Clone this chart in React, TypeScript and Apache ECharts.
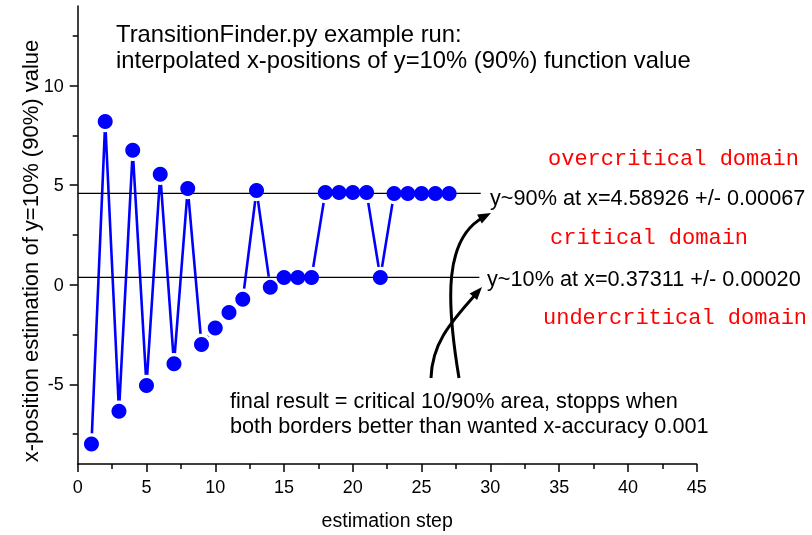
import React, { useEffect, useRef } from "react";
import * as echarts from "echarts";

const steps = [1, 2, 3, 4, 5, 6, 7, 8, 9, 10, 11, 12, 13, 14, 15, 16, 17, 18, 19, 20, 21, 22, 23, 24, 25, 26, 27];
const estimates = [-8.0, 8.2, -6.35, 6.75, -5.06, 5.55, -3.97, 4.84, -3.0, -2.17, -1.39, -0.73, 4.74, -0.13, 0.37, 0.37, 0.37, 4.64, 4.64, 4.64, 4.64, 0.37, 4.59, 4.59, 4.59, 4.59, 4.59];
const level90 = 4.58926;
const level10 = 0.37311;
const level90End = 29.3;
const level10End = 29.2;
const yMajorTicks = [-5, 0, 5, 10];
const yMinorTicks = [-7.5, -2.5, 2.5, 7.5, 12.5];

const titleLines = ["TransitionFinder.py example run:", "interpolated x-positions of y=10% (90%) function value"];
const resultLines = ["final result = critical 10/90% area, stopps when", "both borders better than wanted x-accuracy 0.001"];
const label90 = "y~90% at x=4.58926 +/- 0.00067";
const label10 = "y~10% at x=0.37311 +/- 0.00020";
const domains = ["overcritical domain", "critical domain", "undercritical domain"];

const SANS = "Arial, 'Liberation Sans', Helvetica, sans-serif";
const MONO = "'Courier New', 'Liberation Mono', monospace";

export default function App() {
  const ref = useRef<HTMLDivElement>(null);
  useEffect(() => {
    if (!ref.current) return;
    const chart = echarts.init(ref.current, null, { renderer: "svg" });
    const pts = steps.map((s, i) => [s, estimates[i]]);
    const txt = (text: string, x: number, y: number, size: number, fill = "#000", family = SANS, align = "left") => ({
      type: "text",
      x,
      y,
      silent: true,
      style: { text, fontSize: size, fontFamily: family, fill, align, verticalAlign: "middle" },
    });
    const arrowHead = (tx: number, ty: number, fx: number, fy: number) => {
      const dx = tx - fx, dy = ty - fy;
      const len = Math.sqrt(dx * dx + dy * dy);
      const ux = dx / len, uy = dy / len;
      const L = 13, W = 5;
      const bx = tx - ux * L, by = ty - uy * L;
      return {
        type: "polygon",
        silent: true,
        shape: { points: [[tx, ty], [bx - uy * W, by + ux * W], [bx + uy * W, by - ux * W]] },
        style: { fill: "#000" },
      };
    };
    chart.setOption({
      animation: false,
      grid: { left: 77.7, right: 115.3, top: 6, bottom: 68.3, containLabel: false },
      xAxis: {
        type: "value",
        min: 0,
        max: 45,
        interval: 5,
        axisLine: { onZero: false, lineStyle: { color: "#000", width: 1.5 } },
        axisTick: { length: 8, inside: false, lineStyle: { color: "#000", width: 1.5 } },
        minorTick: { show: true, splitNumber: 2, length: 5, lineStyle: { color: "#000", width: 1.5 } },
        axisLabel: { fontSize: 18, color: "#000", fontFamily: SANS, margin: 14 },
        splitLine: { show: false },
        name: "estimation step",
        nameLocation: "middle",
        nameGap: 46,
        nameTextStyle: { fontSize: 19.5, color: "#000", fontFamily: SANS },
      },
      yAxis: [
        {
          type: "value",
          min: -9,
          max: 14,
          axisLine: { show: true, onZero: false, lineStyle: { color: "#000", width: 1.5 } },
          axisTick: { show: true, length: 8, customValues: yMajorTicks, lineStyle: { color: "#000", width: 1.5 } },
          axisLabel: { fontSize: 18, color: "#000", fontFamily: SANS, margin: 14, customValues: yMajorTicks },
          splitLine: { show: false },
        },
        {
          type: "value",
          position: "left",
          min: -9,
          max: 14,
          axisLine: { show: false, onZero: false },
          axisTick: { show: true, length: 5, customValues: yMinorTicks, lineStyle: { color: "#000", width: 1.5 } },
          axisLabel: { show: false, customValues: yMinorTicks },
          splitLine: { show: false },
        },
      ],
      series: [
        {
          type: "line",
          data: pts,
          showSymbol: false,
          symbol: "none",
          lineStyle: { color: "#0000ff", width: 2.6 },
          silent: true,
          z: 2,
        },
        {
          type: "scatter",
          data: pts,
          symbolSize: 21.5,
          itemStyle: { color: "#ffffff", opacity: 1 },
          silent: true,
          z: 3,
        },
        {
          type: "line",
          data: [[0, level90], [level90End, level90]],
          showSymbol: false,
          symbol: "none",
          lineStyle: { color: "#000", width: 1.3 },
          silent: true,
          z: 4,
        },
        {
          type: "line",
          data: [[0, level10], [level10End, level10]],
          showSymbol: false,
          symbol: "none",
          lineStyle: { color: "#000", width: 1.3 },
          silent: true,
          z: 4,
        },
        {
          type: "scatter",
          data: pts,
          symbolSize: 15,
          itemStyle: { color: "#0000ff", opacity: 1 },
          silent: true,
          z: 5,
        },
      ],
      graphic: [
        txt(titleLines[0], 116, 33, 23.8),
        txt(titleLines[1], 116, 59, 23.8),
        txt(resultLines[0], 230, 400, 21.7),
        txt(resultLines[1], 230, 425, 21.7),
        txt(label90, 490, 197, 21.7),
        txt(label10, 487, 278, 21.7),
        txt(domains[0], 548, 159, 22, "#ff0000", MONO),
        txt(domains[1], 550, 238, 22, "#ff0000", MONO),
        txt(domains[2], 543, 318, 22, "#ff0000", MONO),
        {
          type: "text",
          x: 30,
          y: 251,
          rotation: Math.PI / 2,
          silent: true,
          style: { text: "x-position estimation of y=10% (90%) value", fontSize: 22, fontFamily: SANS, fill: "#000", align: "center", verticalAlign: "middle" },
        },
        {
          type: "bezierCurve",
          silent: true,
          shape: { x1: 459, y1: 378, cpx1: 446, cpy1: 300, cpx2: 444, cpy2: 238, x2: 484, y2: 217 },
          style: { stroke: "#000", lineWidth: 3, fill: "none" },
        },
        arrowHead(491, 213, 470, 224),
        {
          type: "bezierCurve",
          silent: true,
          shape: { x1: 431, y1: 378, cpx1: 432, cpy1: 345, cpx2: 448, cpy2: 325, x2: 476, y2: 294 },
          style: { stroke: "#000", lineWidth: 3, fill: "none" },
        },
        arrowHead(482, 287, 466, 305),
      ],
    });
    return () => chart.dispose();
  }, []);
  return <div ref={ref} style={{ position: "fixed", left: 0, top: 0, width: 812, height: 535 }} />;
}
